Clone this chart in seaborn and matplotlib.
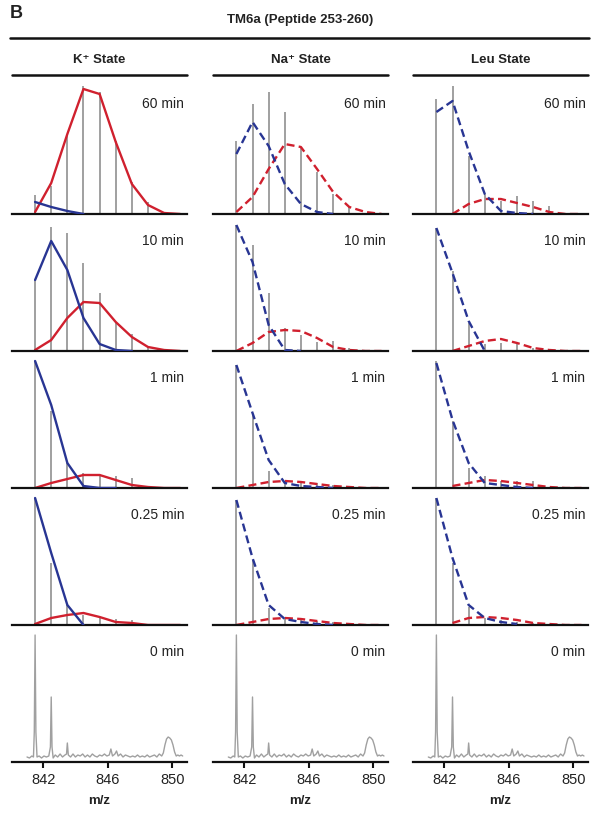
import numpy as np
import matplotlib
matplotlib.use("Agg")
import matplotlib.pyplot as plt
from matplotlib.lines import Line2D
import seaborn as sns

# isotope peak positions (m/z) and fitted envelope positions
stick_mz = [841.5, 842.5, 843.5, 844.5, 845.5, 846.5, 847.5, 848.5]
fit_mz = [841.5, 842.5, 843.5, 844.5, 845.5, 846.5, 847.5, 848.5, 849.5, 850.5]

states = ["K\u207a State", "Na\u207a State", "Leu State"]
times = ["60 min", "10 min", "1 min", "0.25 min", "0 min"]

# relative intensities, one list per time point (60, 10, 1, 0.25 min)
k_sticks = [[19, 28, 78, 128, 122, 73, 32, 12],
            [71, 124, 118, 88, 58, 29, 17, 4],
            [127, 77, 25, 15, 12, 12, 10, 0],
            [127, 62, 20, 10, 7, 6, 5, 0]]
k_blue = [[12, 7, 3, 0],
          [71, 110, 81, 33, 7, 1, 0],
          [127, 83, 25, 2, 0, 0],
          [127, 72, 20, 0]]
k_red = [[2, 31, 80, 125, 120, 72, 30, 9, 1, 0],
         [1, 11, 33, 49, 48, 29, 14, 4, 1, 0],
         [0, 5, 9, 13, 13, 8, 3, 1, 0, 0],
         [1, 7, 10, 12, 8, 3, 2, 0, 0, 0]]

na_sticks = [[73, 110, 122, 102, 67, 42, 20, 7],
             [126, 106, 58, 23, 16, 9, 10, 3],
             [123, 73, 17, 7, 5, 5, 3, 0],
             [125, 65, 17, 7, 5, 4, 3, 0]]
na_blue = [[60, 92, 68, 30, 10, 2, 0],
           [126, 89, 26, 1, 0],
           [123, 75, 28, 5, 2, 1, 0],
           [125, 67, 20, 6, 3, 1, 0]]
na_red = [[2, 17, 45, 70, 67, 45, 22, 7, 2, 0],
          [0, 8, 19, 21, 20, 13, 4, 1, 0, 0],
          [0, 3, 6, 7, 6, 4, 2, 1, 0, 0],
          [0, 3, 6, 7, 6, 4, 2, 1, 0, 0]]

leu_sticks = [[115, 128, 58, 20, 13, 18, 13, 8],
              [123, 80, 28, 7, 8, 7, 3, 0],
              [127, 67, 20, 12, 7, 7, 7, 0],
              [127, 62, 18, 7, 5, 3, 2, 0]]
leu_blue = [[102, 113, 63, 20, 3, 1, 0],
            [123, 78, 30, 0],
            [125, 68, 25, 5, 3, 1, 0],
            [127, 67, 20, 7, 3, 1]]
leu_red = [[None, 0, 10, 15, 15, 11, 7, 2, 0, 0],
           [None, 0, 5, 10, 12, 8, 3, 1, 0, 0],
           [None, 2, 5, 8, 7, 5, 3, 1, 0, 0],
           [None, 2, 7, 8, 7, 5, 2, 1, 0, 0]]

# unlabeled (0 min) profile spectrum
mz0 = [841.00, 841.15, 841.30, 841.40, 841.45, 841.50, 841.55, 841.62, 841.75, 841.90,
       842.05, 842.20, 842.35, 842.45, 842.50, 842.55, 842.62, 842.75, 842.90, 843.05,
       843.20, 843.35, 843.45, 843.50, 843.56, 843.70, 843.85, 844.00, 844.15, 844.30,
       844.45, 844.60, 844.75, 844.90, 845.05, 845.20, 845.35, 845.50, 845.65, 845.80,
       845.95, 846.10, 846.20, 846.30, 846.45, 846.55, 846.65, 846.80, 846.95, 847.10,
       847.25, 847.40, 847.55, 847.70, 847.85, 848.00, 848.15, 848.30, 848.45, 848.60,
       848.75, 848.90, 849.05, 849.20, 849.35, 849.45, 849.55, 849.65, 849.75, 849.85,
       849.95, 850.05, 850.15, 850.25, 850.35, 850.45, 850.55, 850.65]
int0 = [5, 4, 6, 5, 30, 127, 30, 5, 6, 4,
        6, 5, 6, 15, 65, 15, 4, 7, 5, 8,
        5, 7, 8, 19, 7, 5, 8, 5, 7, 6,
        8, 5, 7, 5, 8, 6, 5, 7, 6, 8,
        6, 7, 13, 6, 8, 11, 6, 8, 5, 7,
        6, 5, 6, 5, 7, 5, 6, 5, 7, 5,
        6, 7, 5, 8, 6, 9, 17, 23, 25, 24,
        22, 17, 10, 6, 7, 6, 7, 6]

all_sticks = [k_sticks, na_sticks, leu_sticks]
all_blue = [k_blue, na_blue, leu_blue]
all_red = [k_red, na_red, leu_red]

RED = "#d0202e"
BLUE = "#283593"
GRAY = "#a0a0a0"
TXT = "#222222"

sns.set_theme(style="white")
plt.rcParams["font.family"] = ["Liberation Sans", "DejaVu Sans"]

W, H = 600, 818
fig = plt.figure(figsize=(W / 100, H / 100), dpi=100)


def fx(x):
    return x / W


def fy(y):
    return 1 - y / H


col_left = [11.7, 213, 413]
col_w = 175
baselines = [214, 351, 488, 625, 762]
row_h = 135

# header
fig.text(fx(10), fy(13), "B", fontsize=13, fontweight="bold", color=TXT, va="center", ha="left")
fig.text(fx(300), fy(20), "TM6a (Peptide 253-260)", fontsize=9.5, fontweight="bold",
         color=TXT, ha="center", va="center")
fig.add_artist(Line2D([fx(10), fx(589)], [fy(38), fy(38)], color="#111111", lw=1.8))
for c, name in enumerate(states):
    x0 = col_left[c]
    fig.text(fx(x0 + col_w / 2), fy(60), name, fontsize=9.5, fontweight="bold",
             color=TXT, ha="center", va="center")
    fig.add_artist(Line2D([fx(x0), fx(x0 + col_w)], [fy(75), fy(75)], color="#111111", lw=1.8))

dash = (3.4, 1.8)
for c in range(3):
    for r in range(5):
        x0 = col_left[c]
        base = baselines[r]
        ax = fig.add_axes([fx(x0), fy(base), fx(col_w), row_h / H])
        if r < 4:
            ax.vlines(stick_mz, 0, all_sticks[c][r], color=GRAY, lw=1.4, zorder=1)
            red = np.array([np.nan if v is None else v for v in all_red[c][r]], dtype=float)
            blue = all_blue[c][r]
            ls = "-" if c == 0 else "--"
            sns.lineplot(x=fit_mz[:len(blue)], y=blue, ax=ax, color=BLUE, lw=1.7,
                         linestyle=ls, dashes=False, zorder=3, estimator=None, sort=False)
            sns.lineplot(x=fit_mz, y=red, ax=ax, color=RED, lw=1.7,
                         linestyle=ls, dashes=False, zorder=2, estimator=None, sort=False)
            if c > 0:
                for ln in ax.lines:
                    ln.set_dashes(dash)
        else:
            sns.lineplot(x=mz0, y=int0, ax=ax, color=GRAY, lw=1.0, estimator=None, sort=False)
        ax.set_xlim(840.05, 850.9)
        ax.set_ylim(0, row_h)
        ax.set_facecolor("none")
        for s in ["top", "right", "left"]:
            ax.spines[s].set_visible(False)
        ax.spines["bottom"].set_color("#111111")
        ax.spines["bottom"].set_linewidth(1.6)
        ax.set_yticks([])
        ax.set_ylabel("")
        ax.text(0.985, 110 / row_h, times[r], transform=ax.transAxes, ha="right",
                va="center", fontsize=10, color=TXT)
        if r == 4:
            ax.set_xticks([842, 846, 850])
            ax.tick_params(axis="x", direction="out", length=4, width=1.5,
                           color="#111111", labelsize=10.5, labelcolor=TXT, pad=4, bottom=True)
            ax.set_xlabel("m/z", fontsize=9.5, fontweight="bold", color=TXT, labelpad=6)
        else:
            ax.set_xticks([])
            ax.set_xlabel("")

fig.savefig("out.png", dpi=100)
